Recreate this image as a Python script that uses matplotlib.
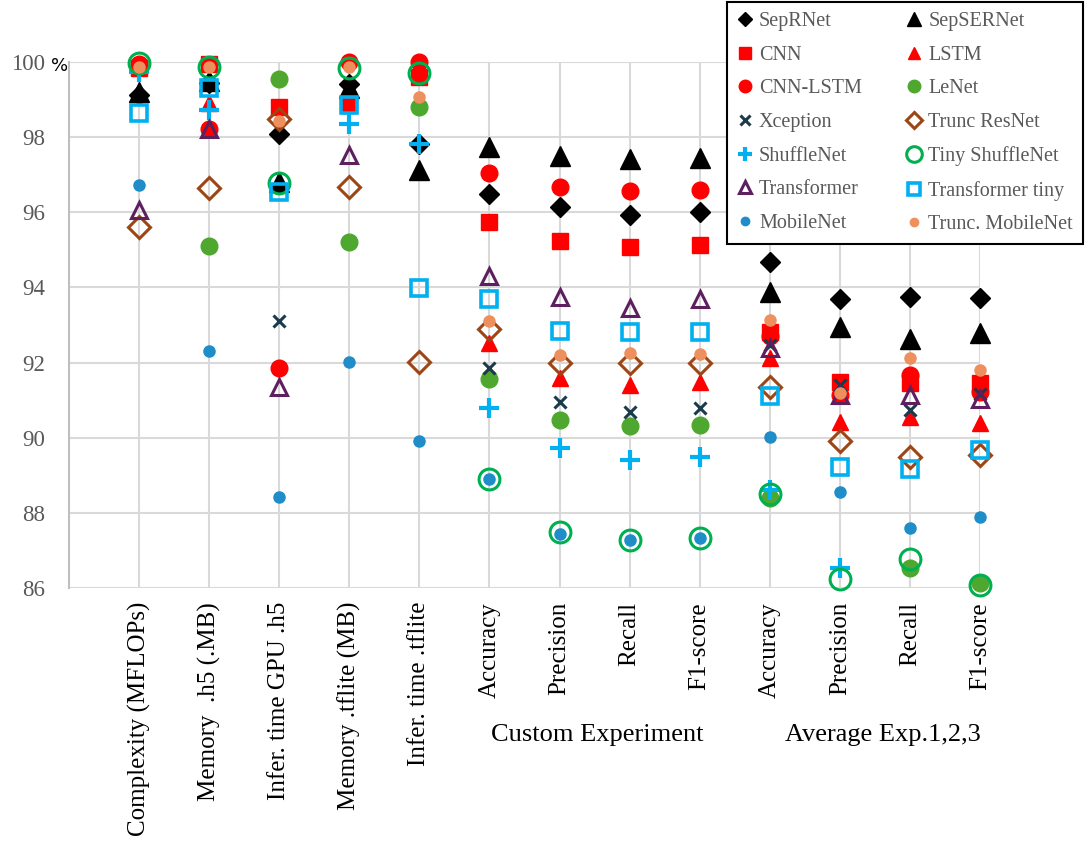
import numpy as np
import matplotlib.pyplot as plt

categories = ["Complexity (MFLOPs)", "Memory  .h5 (.MB)", "Infer. time GPU .h5",
              "Memory .tflite (MB)", "Infer. time .tflite",
              "Accuracy", "Precision", "Recall", "F1-score",
              "Accuracy", "Precision", "Recall", "F1-score"]

# scores in %, None = off the 86..100 scale / not shown
seprnet = [99.12, 99.45, 98.08, 99.42, 97.82, 96.49, 96.13, 95.94, 96.02, 94.67, 93.68, 93.75, 93.71]
sepsernet = [99.2, 99.5, 96.8, 99.3, 97.13, 97.75, 97.5, 97.41, 97.44, 93.89, 92.95, 92.64, 92.78]
cnn = [99.85, 99.95, 98.81, 98.85, 99.6, 95.73, 95.24, 95.08, 95.13, 92.81, 91.49, 91.45, 91.45]
lstm = [None, 98.9, None, 98.87, None, 92.51, 91.6, 91.4, 91.49, 92.11, 90.43, 90.56, 90.4]
cnn_lstm = [99.95, 98.23, 91.86, 100.0, 100.0, 97.04, 96.66, 96.57, 96.59, 92.7, 91.14, 91.68, 91.23]
lenet = [None, 95.1, 99.54, 95.22, 98.79, 91.55, 90.47, 90.31, 90.34, 88.39, None, 86.52, 86.14]
xception = [None, None, 93.11, None, None, 91.85, 90.96, 90.69, 90.78, 92.47, 91.4, 90.74, 91.16]
trunc_resnet = [95.62, 96.64, 98.48, 96.66, 92.01, 92.89, 91.98, 91.98, 91.98, 91.36, 89.91, 89.49, 89.54]
shufflenet = [99.74, 98.72, None, 98.34, 97.82, 90.78, 89.72, 89.41, 89.48, 88.61, 86.54, None, None]
tiny_shufflenet = [99.98, 99.86, 96.77, 99.85, 99.72, 88.89, 87.48, 87.28, 87.32, 88.49, 86.23, 86.76, 86.08]
transformer = [96.06, 98.23, 91.34, 97.52, None, 94.3, 93.75, 93.44, 93.69, 92.38, 91.14, 91.14, 91.02]
transformer_tiny = [98.65, 99.3, 96.55, 98.86, 93.99, 93.69, 92.85, 92.82, 92.82, 91.12, 89.23, 89.18, 89.67]
mobilenet = [96.73, 92.31, 88.43, 92.02, 89.9, 88.89, 87.44, 87.27, 87.32, 90.01, 88.56, 87.61, 87.9]
trunc_mobilenet = [99.88, 99.86, 98.44, 99.87, 99.06, 93.11, 92.2, 92.26, 92.24, 93.13, 91.18, 92.13, 91.8]

# name, values, marker, face, edge, size, edge width
series = [
    ("SepRNet", seprnet, "D", "black", "black", 10, 1),
    ("SepSERNet", sepsernet, "^", "black", "black", 14, 1),
    ("CNN", cnn, "s", "#FF0000", "#FF0000", 11, 1),
    ("LSTM", lstm, "^", "#FF0000", "#FF0000", 12, 1),
    ("CNN-LSTM", cnn_lstm, "o", "#FF0000", "#FF0000", 12, 1),
    ("LeNet", lenet, "o", "#4EA72E", "#4EA72E", 12, 1),
    ("Xception", xception, "x", "#1B3A4B", "#1B3A4B", 9, 2.2),
    ("Trunc ResNet", trunc_resnet, "D", "none", "#9C4615", 11, 2.2),
    ("ShuffleNet", shufflenet, "+", "#00B0F0", "#00B0F0", 14, 3),
    ("Tiny ShuffleNet", tiny_shufflenet, "o", "none", "#00B050", 15, 2.2),
    ("Transformer", transformer, "^", "none", "#5E1F5E", 11, 2.2),
    ("Transformer tiny", transformer_tiny, "s", "none", "#00B0F0", 12, 2.6),
    ("MobileNet", mobilenet, "o", "#1F8DC8", "#1F8DC8", 8, 1),
    ("Trunc. MobileNet", trunc_mobilenet, "o", "#EE8F5E", "#EE8F5E", 8, 1),
]

fig = plt.figure(figsize=(10.88, 8.47), dpi=100)
ax = fig.add_axes([69 / 1088, 1 - 588 / 847, (980 - 69) / 1088, (588 - 62) / 847])

x = np.arange(1, len(categories) + 1)
handles = {}
for name, vals, mk, fc, ec, ms, mew in series:
    y = np.array([np.nan if v is None else v for v in vals])
    h, = ax.plot(x, y, linestyle="none", marker=mk, markersize=ms,
                 markerfacecolor=fc, markeredgecolor=ec, markeredgewidth=mew,
                 color=ec, clip_on=False, label=name, zorder=3)
    handles[name] = h

ax.set_xlim(0, 13)
ax.set_ylim(86, 100)
ax.set_yticks(np.arange(86, 101, 2))
ax.set_xticks(x)
ax.set_xticklabels(categories, rotation=90, fontsize=18, family="Liberation Serif")
for lbl in ax.get_yticklabels():
    lbl.set_family("Liberation Serif")
ax.tick_params(axis="y", labelsize=16.5, labelcolor="#595959", length=0, pad=17)
ax.tick_params(axis="x", length=0, pad=10)
ax.grid(True, color="#D9D9D9", linewidth=1.5, zorder=0)
ax.set_axisbelow(True)
for s in ["top", "right", "bottom"]:
    ax.spines[s].set_visible(False)
ax.spines["left"].set_color("#BFBFBF")
ax.spines["left"].set_linewidth(1.5)

# % sign next to the top tick
fig.text(51 / 1088, 1 - 66 / 847, "%", fontsize=13, color="black", va="center", ha="left")

fig.text(597 / 1088, 1 - 735 / 847, "Custom Experiment", fontsize=19,
         family="Liberation Serif", ha="center", va="center")
fig.text(883 / 1088, 1 - 735 / 847, "Average Exp.1,2,3", fontsize=19,
         family="Liberation Serif", ha="center", va="center")

order = ["SepRNet", "CNN", "CNN-LSTM", "Xception", "ShuffleNet", "Transformer", "MobileNet",
         "SepSERNet", "LSTM", "LeNet", "Trunc ResNet", "Tiny ShuffleNet", "Transformer tiny",
         "Trunc. MobileNet"]
leg = fig.legend([handles[n] for n in order], order, ncol=2, loc="upper right",
                 bbox_to_anchor=(1085 / 1088, 1.0), borderaxespad=0.1, frameon=True, fancybox=False,
                 edgecolor="black", framealpha=1, prop={"family": "Liberation Serif", "size": 14.5},
                 markerscale=0.75, handlelength=0.8, handletextpad=0.3, columnspacing=2.2,
                 labelspacing=0.72, borderpad=0.5)
leg.get_frame().set_linewidth(1.5)
for t in leg.get_texts():
    t.set_color("#595959")

fig.savefig("out.png", dpi=100)
